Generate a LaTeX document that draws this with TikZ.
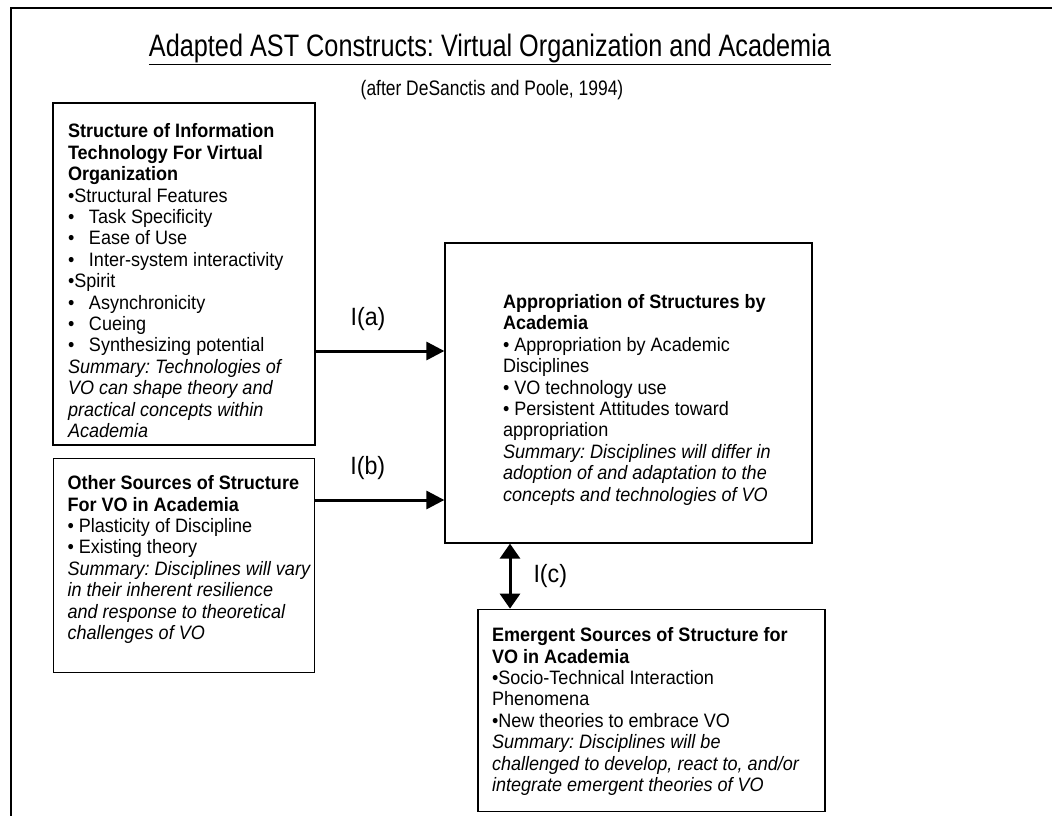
\documentclass[tikz,border=0pt]{standalone}
\usepackage{fontspec}
\setmainfont[FakeStretch=0.93]{Liberation Sans}
\newfontfamily\titlefont[FakeStretch=0.815]{Liberation Sans}
\newfontfamily\subtitlefont[FakeStretch=0.83]{Liberation Sans}
\usetikzlibrary{arrows.meta,positioning}
\frenchspacing
\newcommand{\vobullet}{\makebox[21pt][l]{•}}
% lines of a box: fixed width #1, lowered by #2, one line per row
\newcommand{\boxlines}[3]{\raisebox{#2}[\height][\depth]{\makebox[#1][l]{\begin{tabular}{@{}l@{}}#3\end{tabular}}}}

\begin{document}
\begin{tikzpicture}[x=1pt,y=-1pt,>={Triangle[length=18pt,width=18pt]}]
  \tikzstyle{construct}=[rectangle,draw=black,line width=1.3pt,inner ysep=0pt,font=\fontsize{19.4}{21.4}\selectfont]
  \tikzstyle{link}=[line width=3pt]
  \tikzstyle{linklabel}=[font=\fontsize{25}{28}\selectfont,inner sep=0pt]

  \useasboundingbox (0,0) rectangle (1052,816);
  \clip (0,0) rectangle (1052,816);
  % outer frame, cut off at the right and bottom
  \draw [line width=2pt] (11,8) rectangle (1080,850);

  \node [font=\titlefont\fontsize{31}{34}\selectfont] (title) at (490,49) {\underline{Adapted AST Constructs: Virtual Organization and Academia}};
  \node [font=\subtitlefont\fontsize{21}{24}\selectfont] (subtitle) at (492,90) {(after DeSanctis and Poole, 1994)};

  \begin{scope}
    % left column
    \node [construct,inner xsep=15pt,minimum height=342pt] (techbox) at (184,274) {%
      \boxlines{232pt}{-9.5pt}{%
      \textbf{Structure of Information}\\
      \textbf{Technology For Virtual}\\
      \textbf{Organization}\\
      •Structural Features\\
      \vobullet Task Specificity\\
      \vobullet Ease of Use\\
      \vobullet Inter-system interactivity\\
      •Spirit\\
      \vobullet Asynchronicity\\
      \vobullet Cueing\\
      \vobullet Synthesizing potential\\
      \textit{Summary: Technologies of}\\
      \textit{VO can shape theory and}\\
      \textit{practical concepts within}\\
      \textit{Academia}}};
    \node [construct,inner xsep=14pt,minimum height=214pt] (otherbox) [below=12pt of techbox] {%
      \boxlines{233pt}{5pt}{%
      \textbf{Other Sources of Structure}\\
      \textbf{For VO in Academia}\\
      • Plasticity of Discipline\\
      • Existing theory\\
      \textit{Summary: Disciplines will vary}\\
      \textit{in their inherent resilience}\\
      \textit{and response to theoretical}\\
      \textit{challenges of VO}}};
    % right column
    \node [construct,inner xsep=58pt,minimum height=300pt] (apprbox) at (628.5,393) {%
      \boxlines{251pt}{-7.5pt}{%
      \textbf{Appropriation of Structures by}\\
      \textbf{Academia}\\
      • Appropriation by Academic\\
      Disciplines\\
      • VO technology use\\
      • Persistent Attitudes toward\\
      appropriation\\
      \textit{Summary: Disciplines will differ in}\\
      \textit{adoption of and adaptation to the}\\
      \textit{concepts and technologies of VO}}};
    \node [construct,inner xsep=14pt,minimum height=202pt] (emergbox) [below=65pt of apprbox,xshift=23pt] {%
      \boxlines{319pt}{-2pt}{%
      \textbf{Emergent Sources of Structure for}\\
      \textbf{VO in Academia}\\
      •Socio-Technical Interaction\\
      Phenomena\\
      •New theories to embrace VO\\
      \textit{Summary: Disciplines will be}\\
      \textit{challenged to develop, react to, and/or}\\
      \textit{integrate emergent theories of VO}}};
  \end{scope}

  \coordinate (ya) at (0,351);
  \coordinate (yb) at (0,500);
  \coordinate (xc) at (510,0);

  \begin{scope}
    \draw [link,->] (techbox.east |- ya) -- (apprbox.west |- ya)
      node [linklabel,midway,above=19pt,xshift=-12pt] (lbla) {I(a)};
    \draw [link,->] (otherbox.east |- yb) -- (apprbox.west |- yb)
      node [linklabel,midway,above=19pt,xshift=-12pt] (lblb) {I(b)};
    \draw [link,{Triangle[length=15pt,width=20pt]}-{Triangle[length=15pt,width=20pt]}] (apprbox.south -| xc) -- (emergbox.north -| xc)
      node [linklabel,midway,right=22pt] (lblc) {I(c)};
  \end{scope}
\end{tikzpicture}
\end{document}
